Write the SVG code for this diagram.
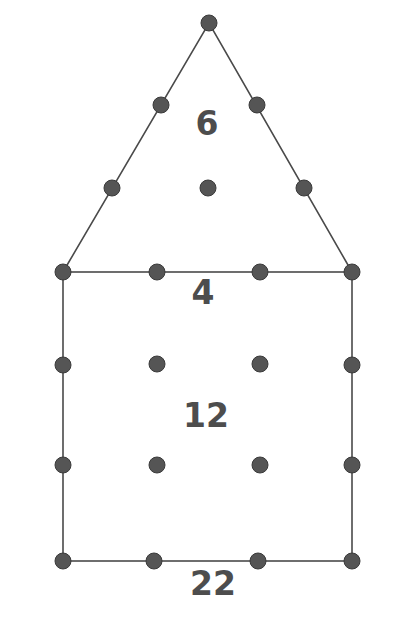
<svg xmlns="http://www.w3.org/2000/svg" width="405" height="618" viewBox="0 0 405 618">
<style>
.edge{stroke:#4a4a4a;stroke-width:1.6;fill:none}
.dot{fill:#555;stroke:#3a3a3a;stroke-width:1}
.num{font-family:"DejaVu Sans",sans-serif;font-weight:bold;font-size:33px;fill:#4d4d4d;text-anchor:middle}
</style>
<rect width="405" height="618" fill="#fff"/>
<g id="connectors">
<polyline class="edge" points="63,272 209,23 352,272"/>
<rect class="edge" x="63" y="272" width="289" height="289"/>
</g>
<g id="triangle">
<circle class="dot" cx="209" cy="23" r="8"/>
<circle class="dot" cx="161" cy="105" r="8"/>
<circle class="dot" cx="257" cy="105" r="8"/>
<circle class="dot" cx="112" cy="188" r="8"/>
<circle class="dot" cx="304" cy="188" r="8"/>
<circle class="dot" cx="208" cy="188" r="8"/>
<text class="num" x="207" y="135">6</text>
</g>
<g id="shared-edge">
<circle class="dot" cx="63" cy="272" r="8"/>
<circle class="dot" cx="157" cy="272" r="8"/>
<circle class="dot" cx="260" cy="272" r="8"/>
<circle class="dot" cx="352" cy="272" r="8"/>
<text class="num" x="203" y="304">4</text>
</g>
<g id="square">
<circle class="dot" cx="63" cy="365" r="8"/>
<circle class="dot" cx="157" cy="364" r="8"/>
<circle class="dot" cx="260" cy="364" r="8"/>
<circle class="dot" cx="352" cy="365" r="8"/>
<circle class="dot" cx="63" cy="465" r="8"/>
<circle class="dot" cx="157" cy="465" r="8"/>
<circle class="dot" cx="260" cy="465" r="8"/>
<circle class="dot" cx="352" cy="465" r="8"/>
<circle class="dot" cx="63" cy="561" r="8"/>
<circle class="dot" cx="154" cy="561" r="8"/>
<circle class="dot" cx="258" cy="561" r="8"/>
<circle class="dot" cx="352" cy="561" r="8"/>
<text class="num" x="206" y="427">12</text>
</g>
<g id="total">
<text class="num" x="213" y="595">22</text>
</g>
</svg>
